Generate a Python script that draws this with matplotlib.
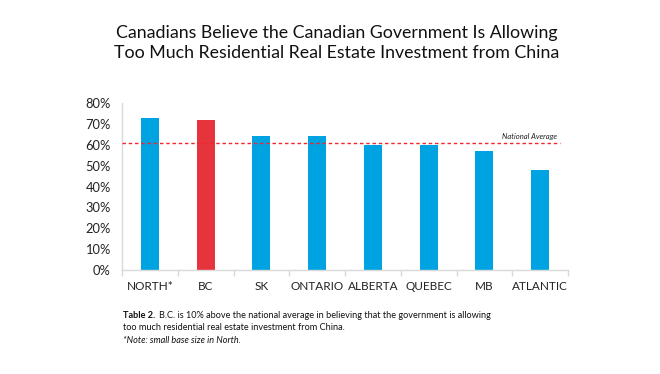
import matplotlib
matplotlib.use('Agg')
import matplotlib.pyplot as plt

regions = ['NORTH*', 'BC', 'SK', 'ONTARIO', 'ALBERTA', 'QUEBEC', 'MB', 'ATLANTIC']
values = [73, 72, 64, 64, 59.7, 59.7, 56.8, 47.8]
national_avg = 61
highlight = 'BC'
y_ticks = [0, 10, 20, 30, 40, 50, 60, 70, 80]

blue = '#00A3E1'
red = '#E5343C'
gray = '#D9D9D9'

plt.rcParams['font.family'] = ['Lato', 'DejaVu Sans']

fig = plt.figure(figsize=(6.6, 3.74), dpi=100)
ax = fig.add_axes([122 / 660, 1 - 270 / 374, 446 / 660, 167 / 374])

x = range(len(regions))
colors = [red if r == highlight else blue for r in regions]
ax.bar(x, values, width=0.32, color=colors, zorder=2)

# national average reference line
ax.plot([-0.5, 7.35], [national_avg, national_avg], color='#F0282E',
        linestyle=(0, (2.5, 2)), linewidth=1, zorder=3, clip_on=False)
ax.text(7.3, national_avg + 1.2, 'National Average', fontsize=5.5, style='italic',
        ha='right', va='bottom', color='#222222')

ax.set_xlim(-0.5, len(regions) - 0.5)
ax.set_ylim(0, 80)
ax.set_yticks(y_ticks)
ax.set_yticklabels([f'{t}%' for t in y_ticks], fontsize=9.3, color='#222222')
ax.set_xticks(list(x))
ax.set_xticklabels(regions, fontsize=8.5, color='#222222')
ax.set_xticks([i + 0.5 for i in range(-1, len(regions))], minor=True)
ax.tick_params(axis='x', which='major', length=0, pad=8)
ax.tick_params(axis='x', which='minor', length=4, color=gray, width=1)
ax.tick_params(axis='y', length=0, pad=8)

for side in ['top', 'right']:
    ax.spines[side].set_visible(False)
for side in ['left', 'bottom']:
    ax.spines[side].set_color(gray)
    ax.spines[side].set_linewidth(1)

fig.text(337 / 660, 1 - 58 / 374,
         'Canadians Believe the Canadian Government Is Allowing\nToo Much Residential Real Estate Investment from China',
         ha='center', va='baseline', fontsize=12.8,
         linespacing=1.3, color='#111111')

# caption: bold lead-in followed by regular text on the same line
cap_size = 6.6
lead = fig.text(123 / 660, 1 - 318 / 374, 'Table 2. ', fontsize=cap_size,
                fontweight='bold', color='#111111')
fig.canvas.draw()
bb = lead.get_window_extent(renderer=fig.canvas.get_renderer())
fig.text(bb.x1 / fig.bbox.width + 0.003, 1 - 318 / 374,
         'B.C. is 10% above the national average in believing that the government is allowing',
         fontsize=cap_size, color='#111111')
fig.text(123 / 660, 1 - 330 / 374, 'too much residential real estate investment from China.',
         fontsize=cap_size, color='#111111')
fig.text(123 / 660, 1 - 343 / 374, '*Note: small base size in North.',
         fontsize=cap_size, style='italic', color='#111111')

fig.savefig('out.png', dpi=100)
